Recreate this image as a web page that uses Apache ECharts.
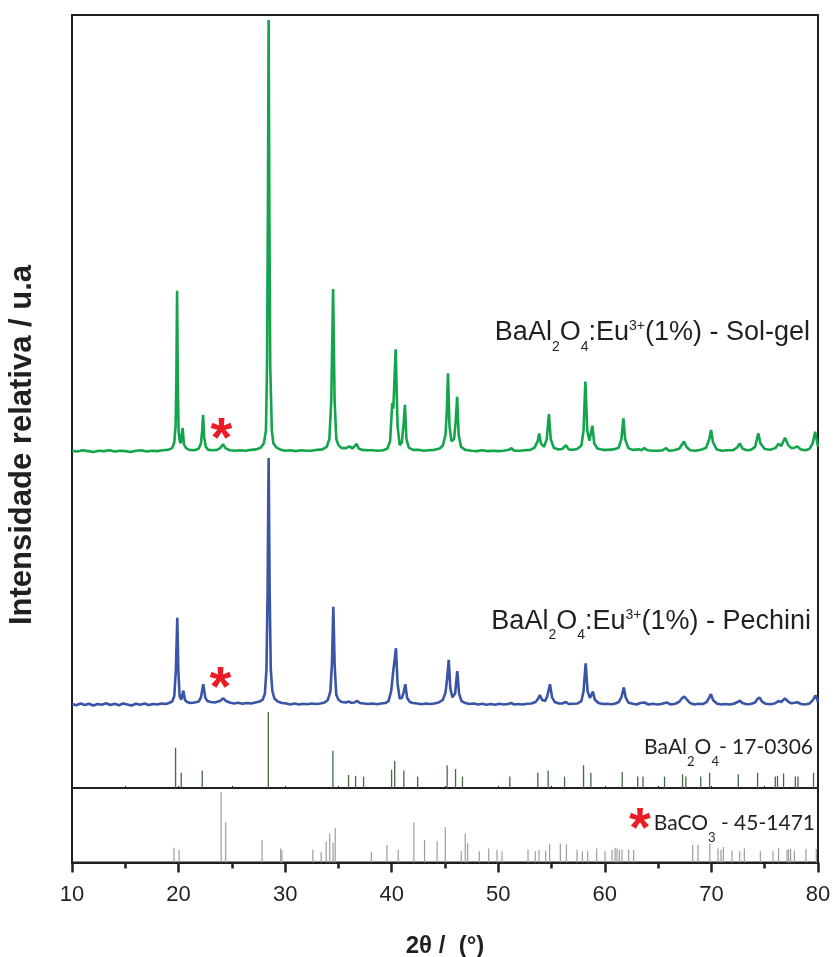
<!DOCTYPE html>
<html><head><meta charset="utf-8">
<script src="https://cdn.jsdelivr.net/npm/echarts/dist/echarts.min.js"></script>
<style>html,body{margin:0;padding:0;background:#fff}#c{width:835px;height:957px}</style>
</head><body><div id="c"></div><script>
// ---- DATA (2θ in degrees, relative intensity %) ----
const xTicks = [10, 20, 30, 40, 50, 60, 70, 80];

const solGel = [
[10.0,0.3],[10.5,0.1],[11.0,0.4],[11.5,0.2],[12.0,0.0],[12.5,0.3],[13.0,0.2],[13.5,0.4],[14.0,0.1],[14.5,0.3],
[15.0,0.2],[15.5,0.0],[16.0,0.3],[16.5,0.4],[17.0,0.1],[17.5,0.3],[18.0,0.2],[18.5,0.4],[19.0,0.5],[19.4,0.9],
[19.6,2.2],[19.72,6],[19.79,16],[19.86,37.3],[19.93,16],[20.0,5],[20.1,2.6],[20.2,2.0],[20.38,5.6],[20.5,1.8],[20.7,0.9],[21.0,0.5],
[21.5,0.4],[21.9,0.8],[22.1,2.0],[22.22,5],[22.3,8.6],[22.4,3.5],[22.55,1.2],[22.8,0.5],[23.2,0.4],[23.6,0.5],
[23.9,0.9],[24.17,1.8],[24.4,0.9],[24.8,0.4],[25.3,0.3],[25.8,0.4],[26.3,0.3],[26.8,0.5],[27.3,0.6],[27.7,1.0],
[28.0,2.0],[28.2,5],[28.3,20],[28.38,55],[28.45,100],[28.52,55],[28.6,20],[28.75,5],[28.9,2.0],[29.2,1.0],
[29.6,0.5],[30.0,0.3],[30.5,0.4],[31.0,0.2],[31.5,0.4],[32.0,0.3],[32.5,0.3],[33.0,0.5],[33.5,0.6],[33.9,1.2],
[34.15,3],[34.33,12],[34.5,37.7],[34.64,12],[34.8,3],[35.0,1.6],[35.3,0.9],[35.7,0.9],[36.05,1.3],[36.3,0.8],
[36.7,1.9],[36.9,0.8],[37.2,0.5],[37.7,0.4],[38.2,0.4],[38.7,0.3],[39.2,0.4],[39.6,0.8],[39.85,2.5],[40.05,11.3],
[40.15,10],[40.37,23.8],[40.55,6],[40.75,1.6],[40.95,2.2],[41.1,6],[41.24,10.9],[41.38,3],[41.6,1.0],[42.0,0.5],
[42.5,0.5],[43.0,0.3],[43.5,0.4],[44.0,0.5],[44.5,0.8],[44.8,1.5],[45.05,4],[45.18,10],[45.28,18.2],[45.42,6],
[45.6,2.5],[45.85,3],[46.0,7],[46.14,12.8],[46.28,4],[46.5,1.2],[46.9,0.5],[47.5,0.3],[48.0,0.2],[48.5,0.4],
[49.0,0.2],[49.5,0.3],[50.0,0.2],[50.5,0.3],[51.0,0.5],[51.24,0.9],[51.5,0.3],[52.0,0.3],[52.5,0.4],[53.0,0.5],
[53.4,1.0],[53.7,2.5],[53.83,4.3],[54.0,2.0],[54.3,1.2],[54.55,3],[54.75,8.8],[54.92,3],[55.2,1.0],[55.6,0.6],
[56.0,0.7],[56.35,1.6],[56.6,0.6],[57.0,0.5],[57.4,0.7],[57.8,1.5],[58.0,5],[58.17,16.3],[58.35,5],[58.55,2.6],
[58.83,6.1],[59.0,2.0],[59.3,0.8],[59.8,0.5],[60.3,0.5],[60.8,0.6],[61.3,1.0],[61.55,3],[61.74,7.8],[61.9,3],
[62.2,0.9],[62.6,0.5],[63.24,0.6],[63.45,0.4],[63.7,0.9],[64.0,0.4],[64.5,0.3],[65.0,0.3],[65.4,0.4],[65.74,0.9],
[66.0,0.3],[66.5,0.4],[67.0,0.8],[67.25,1.8],[67.43,2.4],[67.65,1.2],[68.0,0.4],[68.5,0.3],[69.0,0.5],[69.5,1.0],
[69.8,3],[69.96,5.1],[70.15,2.2],[70.5,0.6],[71.0,0.3],[71.5,0.4],[72.0,0.4],[72.4,1.0],[72.66,2.0],[72.9,0.8],
[73.3,0.4],[73.7,0.5],[74.1,1.2],[74.4,4.3],[74.6,2.0],[75.0,0.7],[75.5,0.5],[76.0,0.9],[76.3,1.9],[76.55,1.4],
[76.9,3.3],[77.2,1.6],[77.5,0.9],[77.8,1.0],[78.06,1.3],[78.4,0.6],[78.8,0.4],[79.2,0.7],[79.5,2.0],[79.73,4.7],
[79.9,2.5],[80.0,1.2]
];

const pechini = [
[10.0,0.8],[10.4,0.3],[10.8,1.0],[11.2,0.4],[11.6,0.9],[12.0,0.2],[12.4,0.8],[12.8,0.5],[13.2,1.1],[13.6,0.4],
[14.0,0.9],[14.4,0.3],[14.8,1.0],[15.2,0.6],[15.6,0.2],[16.0,0.9],[16.4,0.5],[16.8,1.0],[17.2,0.4],[17.6,0.8],
[18.0,0.6],[18.4,1.0],[18.8,0.8],[19.1,1.2],[19.4,1.8],[19.6,4],[19.75,15],[19.88,35.6],[19.98,14],[20.1,4],
[20.25,2.5],[20.45,6.2],[20.6,2.4],[20.8,1.6],[21.1,1.2],[21.5,1.4],[21.9,1.8],[22.1,3.5],[22.32,8.8],[22.5,3.5],
[22.7,2.0],[23.0,1.6],[23.4,1.4],[23.8,1.9],[24.0,2.4],[24.2,3.1],[24.45,2.0],[24.8,1.4],[25.2,1.0],[25.6,1.3],
[26.0,0.9],[26.4,1.2],[26.8,1.0],[27.2,1.4],[27.6,1.8],[27.9,2.6],[28.1,5],[28.25,15],[28.35,45],[28.45,100],
[28.55,45],[28.65,15],[28.8,6],[29.0,3],[29.3,1.8],[29.7,1.2],[30.1,1.0],[30.5,0.6],[30.9,1.0],[31.3,0.6],
[31.7,0.9],[32.1,0.7],[32.5,1.0],[32.9,0.8],[33.3,1.0],[33.7,1.4],[34.0,2.4],[34.25,6],[34.4,18],[34.52,40],
[34.65,16],[34.8,4.5],[35.0,2.5],[35.3,1.6],[35.7,1.4],[36.0,1.8],[36.2,1.3],[36.5,1.4],[36.75,2.1],[37.0,1.2],
[37.4,1.0],[37.8,0.8],[38.2,1.0],[38.6,0.7],[39.0,1.0],[39.4,1.2],[39.7,2.0],[39.95,6],[40.12,13.2],[40.25,13],
[40.4,23.3],[40.55,9],[40.75,3],[40.95,3.2],[41.12,5.5],[41.28,8.8],[41.45,3.2],[41.7,1.6],[42.0,1.2],[42.4,1.0],
[42.8,0.7],[43.2,1.0],[43.6,0.8],[44.0,1.0],[44.4,1.4],[44.8,2.5],[45.05,5.5],[45.2,11],[45.35,18.6],[45.5,7],
[45.7,3.5],[45.95,5],[46.15,14.1],[46.32,5],[46.55,2.0],[46.9,1.2],[47.3,0.8],[47.7,1.0],[48.1,0.6],[48.5,0.9],
[48.9,0.5],[49.3,0.8],[49.7,0.5],[50.1,0.9],[50.5,0.6],[50.9,0.8],[51.2,1.2],[51.5,0.6],[51.9,0.8],[52.3,0.6],
[52.7,0.9],[53.1,1.0],[53.5,1.6],[53.75,3],[53.9,4.4],[54.1,2.5],[54.4,2.0],[54.6,4],[54.85,8.8],[55.05,3.5],
[55.3,1.6],[55.7,1.0],[56.0,1.0],[56.35,1.6],[56.6,0.8],[57.0,0.9],[57.4,1.0],[57.8,2.0],[58.0,6],[58.2,17.2],
[58.38,6],[58.6,3.2],[58.88,5.8],[59.05,2.6],[59.4,1.2],[59.8,0.8],[60.2,0.9],[60.6,0.7],[61.0,1.0],[61.3,1.6],
[61.55,3.5],[61.78,7.5],[61.95,3.5],[62.2,1.4],[62.6,0.9],[63.0,0.6],[63.3,1.2],[63.7,1.4],[64.1,0.6],[64.5,0.9],
[64.9,0.6],[65.3,0.8],[65.8,1.4],[66.2,0.6],[66.6,0.9],[67.0,1.8],[67.25,3.2],[67.46,3.8],[67.7,2.6],[68.0,1.2],
[68.4,0.6],[68.8,0.9],[69.2,0.8],[69.55,1.6],[69.8,3.5],[69.95,4.8],[70.15,2.4],[70.5,1.0],[70.9,0.6],[71.3,0.8],
[71.7,0.6],[72.1,0.9],[72.45,1.6],[72.67,2.2],[72.9,1.2],[73.3,0.7],[73.7,0.8],[74.1,1.4],[74.3,2.8],[74.5,3.4],
[74.75,1.8],[75.1,0.9],[75.5,0.7],[75.9,1.0],[76.3,2.0],[76.55,1.6],[76.9,3.1],[77.2,1.8],[77.5,1.1],[77.8,1.3],
[78.06,1.5],[78.4,0.8],[78.8,0.6],[79.2,1.0],[79.5,2.3],[79.77,4.3],[79.92,2.6],[80.0,1.6]
];

// JCPDS 17-0306 BaAl2O4 reference lines
const refBaAl2O4 = [
[19.72,53],[20.25,20],[22.22,23],[28.42,100],[34.48,49],[35.95,17],[36.61,16],[37.36,15],[39.99,24],[40.28,36],
[41.14,23],[42.43,15],[45.2,30],[45.99,25],[46.64,15],[51.08,15],[53.71,20],[54.68,23],[56.22,15],[58.0,30],
[58.69,20],[61.63,21],[63.08,15],[63.58,15],[65.6,15],[67.29,18],[67.6,15],[69.0,15],[69.83,20],[72.52,18],
[74.33,20],[75.99,15],[76.2,16],[76.77,19],[77.87,15],[78.12,15],[79.58,20]
];

// JCPDS 45-1471 BaCO3 reference lines
const refBaCO3 = [
[19.57,21],[20.05,18],[24.0,100],[24.42,57],[27.83,32],[29.58,20],[29.7,17],[32.6,18],[33.38,15],[33.85,30],
[34.18,41],[34.5,28],[34.7,49],[38.09,15],[39.55,25],[40.61,18],[42.08,57],[43.08,32],[44.26,30],[45.03,50],
[46.53,16],[46.9,41],[47.12,27],[48.22,16],[49.1,20],[49.88,18],[50.35,16],[52.79,18],[53.47,16],[53.82,18],
[54.45,17],[54.82,26],[55.82,27],[56.39,26],[57.39,18],[57.89,16],[58.39,16],[59.23,20],[60.02,16],[60.67,18],
[60.96,21],[61.14,20],[61.36,18],[61.61,18],[62.23,18],[62.7,18],[68.24,25],[68.74,25],[69.85,27],[70.62,20],
[70.9,18],[71.12,22],[71.93,17],[72.65,16],[73.09,20],[74.59,16],[75.78,16],[76.3,20],[77.09,18],[77.24,19],
[77.43,19],[77.78,17],[78.87,19],[79.84,19]
];

// label pieces: [text, 'n' normal | 'sub' | 'sup']
const labelSolGel  = [['BaAl','n'],['2','sub'],['O','n'],['4','sub'],[':Eu','n'],['3+','sup'],['(1%) - Sol-gel','n']];
const labelPechini = [['BaAl','n'],['2','sub'],['O','n'],['4','sub'],[':Eu','n'],['3+','sup'],['(1%) - Pechini','n']];
const labelRef1    = [['BaAl','n'],['2','sub'],['O','n'],['4','sub'],['- 17-0306','n']];
const labelRef2    = [['BaCO','n'],['3','sub'],[' - 45-1471','n']];
const xTitle = '2θ /  (°)';
const yTitle = 'Intensidade relativa / u.a';

// ---- CHART ----
const AX = '#231f20';
const FF = '"Liberation Sans", Arial, sans-serif';
const FL = 'Lato, "Open Sans", sans-serif';
const ctx = document.createElement('canvas').getContext('2d');

// vertical offset from the "middle" line to glyph centre / baseline
function metrics(font, sample) {
  ctx.font = font;
  ctx.textBaseline = 'middle';
  const m = ctx.measureText(sample);
  ctx.textBaseline = 'alphabetic';
  const a = ctx.measureText('H');
  ctx.textBaseline = 'middle';
  const h = ctx.measureText('H');
  return {
    width: m.width,
    centerOff: (m.actualBoundingBoxDescent - m.actualBoundingBoxAscent) / 2,
    midToBase: a.actualBoundingBoxAscent - h.actualBoundingBoxAscent
  };
}

function labelElems(parts, right, baseline, fs, sfs, family, subDy, supDy) {
  const mainFont = fs + 'px ' + family, smallFont = sfs + 'px ' + family;
  const info = parts.map(([t, k]) => metrics(k === 'n' ? mainFont : smallFont, t));
  const total = info.reduce((s, m) => s + m.width, 0);
  let x = right - total;
  const base = metrics(mainFont, 'H');
  return parts.map(([t, k], i) => {
    const m = info[i];
    let y;
    if (k === 'n') y = baseline - base.midToBase;
    else y = baseline + (k === 'sub' ? subDy : supDy) - m.centerOff;
    const el = {type: 'text', x: x, y: y, z: 50,
      style: {text: t, fill: AX, font: (k === 'n' ? mainFont : smallFont), align: 'left', verticalAlign: 'middle'}};
    x += m.width;
    return el;
  });
}

function star(cx, cy) {
  const font = 'bold 56px ' + FF;
  const m = metrics(font, '*');
  return {type: 'text', x: cx, y: cy - m.centerOff, z: 100,
    style: {text: '*', fill: '#ed1c24', font: font, align: 'center', verticalAlign: 'middle'}};
}

const chart = echarts.init(document.getElementById('c'), null, {renderer: 'canvas'});
const L = 72, R = 17;
const hiddenX = i => ({type: 'value', gridIndex: i, min: xTicks[0], max: xTicks[xTicks.length - 1], interval: 10, show: false});
const hiddenY = (i, max) => ({type: 'value', gridIndex: i, min: 0, max: max, show: false});

chart.setOption({
  animation: false,
  backgroundColor: '#fff',
  grid: [
    {left: L, right: R, top: 15, bottom: 94.5, show: true, borderColor: AX, borderWidth: 2, backgroundColor: 'transparent', outerBoundsMode: 'none'},
    {left: L, right: R, top: 20, height: 432, outerBoundsMode: 'none'},
    {left: L, right: R, top: 458, height: 248, outerBoundsMode: 'none'},
    {left: L, right: R, top: 712, height: 76, outerBoundsMode: 'none'},
    {left: L, right: R, top: 792, height: 70.5, outerBoundsMode: 'none'}
  ],
  xAxis: [
    {type: 'value', gridIndex: 0, position: 'top', min: 10, max: 80, interval: 5,
     axisLine: {show: false}, axisTick: {show: true, inside: true, length: 2, lineStyle: {color: AX, width: 1}},
     axisLabel: {show: false}, splitLine: {show: false}},
    hiddenX(1), hiddenX(2),
    {type: 'value', gridIndex: 3, min: 10, max: 80, interval: 5,
     axisLine: {show: true, onZero: false, lineStyle: {color: AX, width: 2}},
     axisTick: {show: true, inside: true, length: 2, lineStyle: {color: AX, width: 1}},
     axisLabel: {show: false}, splitLine: {show: false}},
    {type: 'value', gridIndex: 4, min: 10, max: 80, interval: 10,
     axisLine: {show: true, onZero: false, lineStyle: {color: AX, width: 2}},
     axisTick: {show: true, length: 10, lineStyle: {color: AX, width: 2.5}},
     minorTick: {show: true, splitNumber: 2, length: 6, lineStyle: {color: AX, width: 2.5}},
     axisLabel: {show: true, fontSize: 22, fontFamily: FF, color: AX, margin: 21},
     splitLine: {show: false}, minorSplitLine: {show: false}}
  ],
  yAxis: [hiddenY(0, 100), hiddenY(1, 100), hiddenY(2, 100), hiddenY(3, 100), hiddenY(4, 100)],
  series: [
    {type: 'line', name: 'Sol-gel', xAxisIndex: 1, yAxisIndex: 1, data: solGel, symbol: 'none', clip: false,
     lineStyle: {color: '#12a54b', width: 2.6}},
    {type: 'line', name: 'Pechini', xAxisIndex: 2, yAxisIndex: 2, data: pechini, symbol: 'none', clip: false,
     lineStyle: {color: '#3a55a6', width: 2.6}},
    {type: 'bar', name: '17-0306', xAxisIndex: 3, yAxisIndex: 3, data: refBaAl2O4, barWidth: 1.3,
     itemStyle: {color: '#456a45'}},
    {type: 'bar', name: '45-1471', xAxisIndex: 4, yAxisIndex: 4, data: refBaCO3, barWidth: 1.2,
     itemStyle: {color: '#9d9d9d'}}
  ],
  graphic: [].concat(
    labelElems(labelSolGel, 810, 340, 27, 14, FF, 6, -15.5),
    labelElems(labelPechini, 811, 628.5, 27, 14, FF, 5, -14.5),
    labelElems(labelRef1, 813, 754, 21, 13, FL, 7, 0),
    labelElems(labelRef2, 815, 829.5, 21, 13, FL, 7.5, 0),
    [star(221.5, 428), star(220.5, 677), star(640, 818),
     {type: 'text', x: 445, y: 946, style: {text: xTitle, fill: AX, font: 'bold 24px ' + FF, align: 'center', verticalAlign: 'middle'}},
     {type: 'text', x: 22, y: 445, rotation: Math.PI / 2, style: {text: yTitle, fill: AX, font: 'bold 31px ' + FF, align: 'center', verticalAlign: 'middle'}}]
  )
});
</script></body></html>
